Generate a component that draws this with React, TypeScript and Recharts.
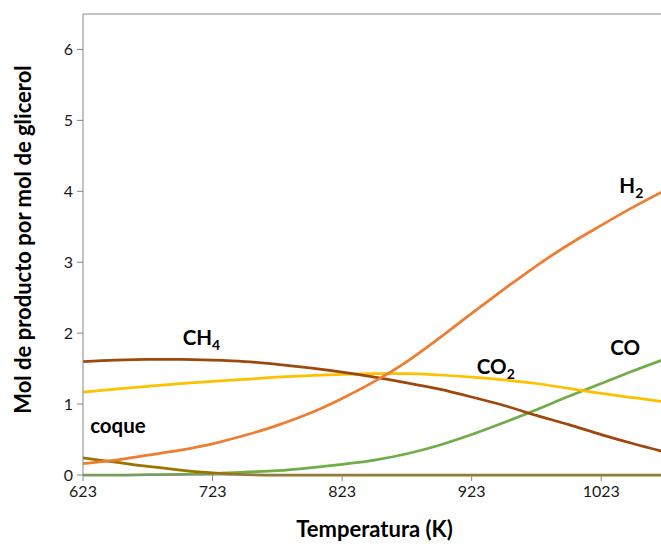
import { LineChart, Line, XAxis, YAxis, ReferenceLine, ReferenceDot } from "recharts";

// temperatura (K)
const temps = [623, 648, 673, 698, 723, 748, 773, 798, 823, 848, 873, 898, 923, 948, 973, 998, 1023, 1048, 1073];

// mol de producto por mol de glicerol
const h2 = [0.16, 0.21, 0.28, 0.35, 0.44, 0.56, 0.7, 0.87, 1.08, 1.32, 1.6, 1.93, 2.28, 2.62, 2.95, 3.25, 3.52, 3.78, 4.02];
const ch4 = [1.6, 1.62, 1.63, 1.63, 1.62, 1.6, 1.56, 1.51, 1.45, 1.38, 1.3, 1.21, 1.1, 0.98, 0.84, 0.71, 0.57, 0.44, 0.32];
const co2 = [1.17, 1.21, 1.25, 1.29, 1.32, 1.35, 1.38, 1.4, 1.42, 1.43, 1.43, 1.41, 1.38, 1.34, 1.29, 1.22, 1.15, 1.09, 1.03];
const co = [0, 0, 0.005, 0.01, 0.02, 0.04, 0.06, 0.1, 0.15, 0.21, 0.3, 0.42, 0.57, 0.74, 0.92, 1.11, 1.29, 1.47, 1.64];
const coque = [0.24, 0.18, 0.12, 0.07, 0.03, 0.005, 0, 0, 0, 0, 0, 0, 0, 0, 0, 0, 0, 0, 0];

const xTicks = [623, 723, 823, 923, 1023];
const yTicks = [0, 1, 2, 3, 4, 5, 6];

// etiquetas de cada curva: [texto, subíndice, T, valor]
const labels: [string, string, number, number][] = [
  ["coque", "", 628.5, 0.59],
  ["CH", "4", 700, 1.83],
  ["CO", "2", 927, 1.43],
  ["CO", "", 1030, 1.69],
  ["H", "2", 1037, 3.98],
];

const data = temps.map((t, i) => ({
  t,
  h2: h2[i],
  ch4: ch4[i],
  co2: co2[i],
  co: co[i],
  coque: coque[i],
}));

const font = "Lato, 'Open Sans', sans-serif";
const axisColor = "#868686";

function ChemLabel(props: any) {
  const { cx, cy, text, sub } = props;
  return (
    <text x={cx} y={cy} fontFamily={font} fontWeight="bold" fontSize={20.5} fill="#000">
      {text}
      {sub ? (
        <tspan fontSize={14} dy={5}>
          {sub}
        </tspan>
      ) : null}
    </text>
  );
}

export default function App() {
  return (
    <div style={{ position: "absolute", left: 0, top: 0, width: 661, height: 544, overflow: "hidden", background: "#fff" }}>
      <LineChart width={666} height={544} data={data} margin={{ top: 14, right: 0, bottom: 0, left: 0 }}>
        <XAxis
          dataKey="t"
          type="number"
          domain={[623, 1073]}
          ticks={xTicks}
          stroke={axisColor}
          tickSize={6}
          tickMargin={5}
          height={69}
          tick={{ fill: "#1a1a1a", fontSize: 16, fontFamily: font }}
          label={{
            content: (p: any) => (
              <text
                x={p.viewBox.x + p.viewBox.width / 2}
                y={537}
                textAnchor="middle"
                fontFamily={font}
                fontWeight="bold"
                fontSize={22}
                fill="#000"
              >
                Temperatura (K)
              </text>
            ),
          }}
        />
        <YAxis
          type="number"
          domain={[0, 6.5]}
          ticks={yTicks}
          stroke={axisColor}
          tickSize={6}
          tickMargin={4}
          width={83}
          tick={{ fill: "#1a1a1a", fontSize: 16, fontFamily: font }}
          label={{
            content: (p: any) => {
              const cy = p.viewBox.y + p.viewBox.height / 2 - 5;
              return (
                <text
                  x={22}
                  y={cy}
                  transform={`rotate(-90 22 ${cy})`}
                  textAnchor="middle"
                  dominantBaseline="central"
                  fontFamily={font}
                  fontWeight="bold"
                  fontSize={22}
                  fill="#000"
                >
                  Mol de producto por mol de glicerol
                </text>
              );
            },
          }}
        />
        <ReferenceLine y={6.5} stroke={axisColor} strokeWidth={1} />
        <Line dataKey="co" type="monotone" stroke="#70AD47" strokeWidth={2.75} dot={false} isAnimationActive={false} />
        <Line dataKey="coque" type="monotone" stroke="#9B7300" strokeWidth={2.75} dot={false} isAnimationActive={false} />
        <Line dataKey="co2" type="monotone" stroke="#FFC000" strokeWidth={2.75} dot={false} isAnimationActive={false} />
        <Line dataKey="ch4" type="monotone" stroke="#9E480E" strokeWidth={2.75} dot={false} isAnimationActive={false} />
        <Line dataKey="h2" type="monotone" stroke="#ED7D31" strokeWidth={2.75} dot={false} isAnimationActive={false} />
        {labels.map(([text, sub, x, y]) => (
          <ReferenceDot
            key={text + sub}
            x={x}
            y={y}
            r={0}
            shape={(p: any) => <ChemLabel cx={p.cx} cy={p.cy} text={text} sub={sub} />}
          />
        ))}
      </LineChart>
    </div>
  );
}
